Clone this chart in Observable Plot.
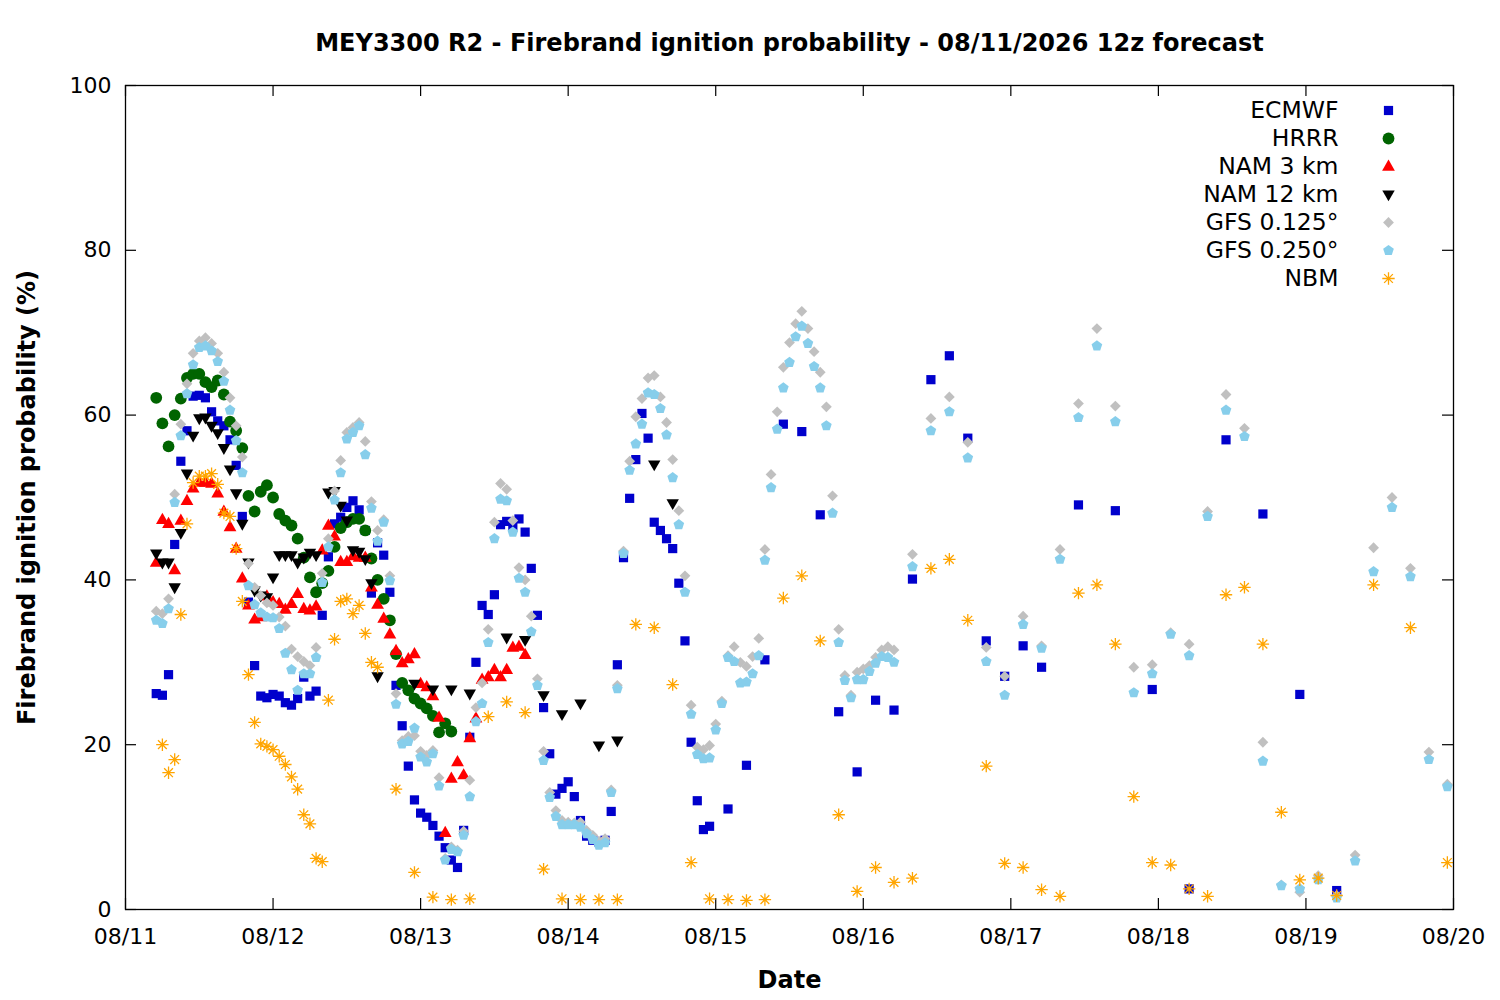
<!DOCTYPE html>
<html>
<head>
<meta charset="utf-8">
<script src="https://cdn.jsdelivr.net/npm/d3@7"></script>
<script src="https://cdn.jsdelivr.net/npm/@observablehq/plot@0.6"></script>
<style>
  body { margin: 0; background: #fff; }
</style>
</head>
<body>
<div id="chart"></div>
<script>
// ---------- DATA ----------
const titleText = "MEY3300 R2 - Firebrand ignition probability - 08/11/2026 12z forecast";
const xLabel = "Date";
const yLabel = "Firebrand ignition probability (%)";
const dayLabels = ["08/11","08/12","08/13","08/14","08/15","08/16","08/17","08/18","08/19","08/20"];
const dayHours = [0,24,48,72,96,120,144,168,192,216];
const yTicks = [0,20,40,60,80,100];

// hours after 08/11 00:00 at which each model has a value
const ecmwfHours = [...d3.range(5,96,1), ...d3.range(98,150,3), ...d3.range(155,198,6)];
const hrrrHours  = d3.range(5,54,1);
const nam3Hours  = d3.range(5,66,1);
const nam12Hours = [...d3.range(5,42,1), ...d3.range(44,90,3)];
const gfsHours   = [...d3.range(5,126,1), ...d3.range(128,216,3)];
const nbmHours   = [...d3.range(6,42,1), ...d3.range(44,198,3), 203, 209, 215];

const ecmwfValues = [
  26.2,26,28.5,44.3,54.4,58.1,62.3,62.4,62.1,60.4,
  59.3,58.7,57,53.9,47.7,37.3,29.6,25.9,25.7,26.1,
  25.9,25.1,24.8,25.6,28.2,25.9,26.5,35.7,42.8,46.8,
  47.6,48.8,49.6,48.5,46,38.4,44.5,43,38.5,27.2,
  22.3,17.4,13.3,11.7,11.2,10.2,8.9,7.5,6,5.1,
  9.6,20.9,30,36.9,35.8,38.2,46.7,47.1,46.4,47.4,
  45.8,41.4,35.7,24.5,18.9,14,14.7,15.5,13.7,10.8,
  8.9,8.4,8.2,8.4,11.9,29.7,42.7,49.9,54.6,60.2,
  57.2,47,46,45,43.8,39.6,32.6,20.3,13.2,9.7,
  10.1,
  12.2,17.5,30.3,58.9,58,47.9,24,16.7,25.4,24.2,40.1,64.3,67.2,57.2,32.6,28.3,32,29.4,
  49.1,48.4,26.7,2.5,57,48,26.1,2.3
];
const hrrrValues = [
  62.1,59,56.2,60,62,64.5,65,65,64,63.4,
  64.2,62.5,59.2,58.1,56,50.2,48.3,50.7,51.5,50,
  48,47.2,46.6,45,42.7,40.3,38.5,39.6,41.1,44,
  46.3,47,47.4,47.4,46,42.6,40,37.7,35.1,31,
  27.5,26.6,25.6,25,24.4,23.5,21.5,22.6,21.6
];
const nam3Values = [
  42.1,47.3,46.8,41.2,47.2,49.6,51.1,51.8,51.8,51.7,
  50.5,48.3,46.4,43.8,40.2,36.9,35.2,35.5,38,37.3,
  37.1,36.4,37.1,38.3,36.5,36.3,36.8,43.6,46.6,45.3,
  42.2,42.2,42.9,42.7,42.7,39.1,37,35.3,33.4,31.4,
  29.9,30.4,31,27.4,27,25.9,23.3,9.3,15.9,17.9,
  16.3,20.8,23.2,27.9,28.2,29.1,28.2,29.1,31.8,31.9,
  30.9
];
const nam12Values = [
  43.2,42.1,42.1,39.1,45.7,52.9,57.5,59.6,59.7,58.7,
  57.8,56,53.4,50.5,46.8,42.1,38.7,38.1,37.9,40.3,
  43,43,43,42.1,42.7,43.3,43,null,50.6,50.8,
  49,47.2,43.6,43.4,42.5,39.6,28.3,
  null,27.4,26.7,26.7,26.2,null,33,32.7,26,23.7,25,19.9,20.5,null,54,49.3
];
const gfs0125Values = [
  36.2,35.9,37.7,50.4,58.9,63.8,67.5,69,69.4,68.7,
  67.5,65.2,62.1,58.7,54.9,42,39.1,38.1,37.2,36.9,
  35.5,34.4,31.6,30.7,30.1,29.6,31.8,40.8,45,50.8,
  54.5,57.9,58.5,59.1,56.8,49.5,46,47.3,40.5,26.2,
  20.5,21,21.1,19.2,18.7,19.3,16,6.2,7.6,7.2,
  9.5,15.7,24.5,27.5,34,47,51.7,51,47.2,41.5,
  40,35.6,28,19.2,14.2,12,10.8,10.6,10.5,10.6,
  9.6,9,8.3,8.6,14.5,27.2,43.5,54.4,59.8,62,
  64.5,64.8,62.2,59.1,54.6,48.4,40.5,24.8,19.7,19.4,
  19.9,22.5,25.3,30.8,31.9,30,29.5,30.7,32.9,43.7,
  52.8,60.4,65.8,68.8,71.1,72.6,70.5,67.7,65.2,61,
  50.2,34,28.4,26,28.8,29.2,29.6,30.6,31.5,31.9,
  31.5,
  43.1,59.6,62.2,56.7,31.8,28.3,35.6,32,43.7,61.4,
  70.5,61.1,29.4,29.7,33.6,32.2,48.3,62.5,58.4,20.3,
  3,2.1,4.1,1.7,6.6,43.9,50,41.4,19.1,15.2
];
const gfs0250Values = [
  35.1,34.7,36.5,49.4,57.5,62.6,66.1,68.2,68.4,67.8,
  66.5,64.1,60.6,56.9,53,39.3,37,36,35.5,35.4,
  34.1,31.1,29.1,26.6,28.6,28.6,30.6,39.7,44,49.7,
  53,57.1,57.9,58.7,55.2,48.7,44.7,47,39.9,24.9,
  20.1,20.4,22,18.5,17.9,18.9,15,6,7.3,7,
  9,13.7,22.8,25,32.4,45,49.8,49.6,45.8,40.2,
  38.5,33.7,27.2,18.1,13.6,11.3,10.3,10.3,10.3,10,
  9.2,8.5,7.8,8.1,14.2,26.8,43.2,53.3,56.5,58.9,
  62.7,62.5,60.8,57.6,52.4,46.7,38.5,23.7,18.8,18.3,
  18.4,21.8,25,30.6,30.1,27.5,27.6,28.6,30.8,42.4,
  51.2,58.3,63.3,66.4,69.5,70.8,68.7,65.9,63.3,58.7,
  48.1,32.4,27.8,25.7,27.9,27.9,28.9,29.9,30.7,30.6,
  30,
  41.6,58.1,60.4,54.8,30.1,26,34.6,31.7,42.5,59.7,
  68.4,59.2,26.3,28.6,33.4,30.8,47.7,60.6,57.4,18,
  2.9,2.5,3.6,1.4,5.9,41,48.8,40.4,18.2,14.9
];
const nbmValues = [
  20,16.6,18.2,35.8,46.8,51.8,52.6,52.6,52.9,51.6,
  48.1,47.7,43.8,37.4,28.5,22.7,20.1,19.8,19.4,18.6,
  17.6,16.1,14.6,11.5,10.4,6.2,5.8,25.4,32.8,37.4,
  37.7,35.9,36.9,33.5,30,29.4,
  14.6,4.5,1.5,1.2,1.3,23.4,25.2,23.9,4.9,1.3,
  1.2,1.2,1.2,34.6,34.2,27.3,5.7,1.3,1.2,1.1,
  1.2,37.8,40.5,32.6,11.5,2.2,5.1,3.3,3.8,41.4,
  42.5,35.1,17.4,5.6,5.1,2.4,1.6,38.4,39.4,32.2,
  13.7,5.7,5.4,2.5,1.6,38.2,39.1,32.2,11.8,3.6,
  3.8,1.7,
  39.4,34.2,5.7
];

const seriesNames = ["ECMWF","HRRR","NAM 3 km","NAM 12 km","GFS 0.125°","GFS 0.250°","NBM"];

// ---------- SYMBOLS ----------
const rad = s => Math.sqrt(s / Math.PI);
const symSquare = {draw(c, s) { const h = rad(s); c.rect(-h, -h, 2*h, 2*h); }};
const symTriUp = {draw(c, s) { const h = rad(s); c.moveTo(0, -h*1.1); c.lineTo(h, h*0.65); c.lineTo(-h, h*0.65); c.closePath(); }};
const symTriDown = {draw(c, s) { const h = rad(s); c.moveTo(0, h*1.1); c.lineTo(h, -h*0.65); c.lineTo(-h, -h*0.65); c.closePath(); }};
const symDiamond = {draw(c, s) { const h = rad(s); c.moveTo(0, -h); c.lineTo(h, 0); c.lineTo(0, h); c.lineTo(-h, 0); c.closePath(); }};
const symPentagon = {draw(c, s) { const h = rad(s);
  for (let k = 0; k < 5; k++) { const a = -Math.PI/2 + k*2*Math.PI/5; const px = h*Math.cos(a), py = h*Math.sin(a); if (k === 0) c.moveTo(px, py); else c.lineTo(px, py); }
  c.closePath(); }};
const symAster = {draw(c, s) { const h = rad(s); const d = h*0.7071;
  c.moveTo(-h, 0); c.lineTo(h, 0); c.moveTo(0, -h); c.lineTo(0, h);
  c.moveTo(-d, -d); c.lineTo(d, d); c.moveTo(-d, d); c.lineTo(d, -d); }};

const styles = [
  {symbol: symSquare,   r: 4.6, fill: "#0000cc", stroke: "none"},
  {symbol: "circle",    r: 5.9, fill: "#006400", stroke: "none"},
  {symbol: symTriUp,    r: 6.4, fill: "#ff0000", stroke: "none"},
  {symbol: symTriDown,  r: 6.2, fill: "#000000", stroke: "none"},
  {symbol: symDiamond,  r: 5.4, fill: "#c0c0c0", stroke: "none"},
  {symbol: symPentagon, r: 5.6, fill: "#87ceeb", stroke: "none"},
  {symbol: symAster,    r: 6.2, fill: "none", stroke: "#ffa500", strokeWidth: 1.3}
];

const toRows = (hours, values) => hours.map((t, i) => ({t, v: values[i]})).filter(d => d.v != null);
const seriesRows = [
  toRows(ecmwfHours, ecmwfValues),
  toRows(hrrrHours, hrrrValues),
  toRows(nam3Hours, nam3Values),
  toRows(nam12Hours, nam12Values),
  toRows(gfsHours, gfs0125Values),
  toRows(gfsHours, gfs0250Values),
  toRows(nbmHours, nbmValues)
];

// ---------- LAYOUT ----------
const W = 1500, H = 1000, mL = 125, mR = 47, mT = 85, mB = 91;
const frameW = W - mL - mR, frameH = H - mT - mB, tickLen = 11;
const tickFont = 22, legendFont = 23.5, titleFont = 24;

const marks = [
  Plot.tickY(yTicks, {y: d => d, insetRight: frameW - tickLen, stroke: "black", strokeWidth: 1.2}),
  Plot.tickY(yTicks, {y: d => d, insetLeft: frameW - tickLen, stroke: "black", strokeWidth: 1.2}),
  Plot.tickX(dayHours, {x: d => d, insetTop: frameH - tickLen, stroke: "black", strokeWidth: 1.2}),
  Plot.tickX(dayHours, {x: d => d, insetBottom: frameH - tickLen, stroke: "black", strokeWidth: 1.2}),
  Plot.axisY({ticks: yTicks, tickSize: 0, tickPadding: 14, fontSize: tickFont, label: null}),
  Plot.axisX({ticks: dayHours, tickFormat: d => dayLabels[Math.round(d / 24)], tickSize: 0, tickPadding: 19, fontSize: tickFont, label: null})
];

seriesRows.forEach((rows, i) => {
  marks.push(Plot.dot(rows, {x: "t", y: "v", ...styles[i]}));
});

marks.push(Plot.frame({stroke: "black", strokeWidth: 1.3}));

// legend
seriesNames.forEach((name, i) => {
  const dy = 25 + 28 * i;
  marks.push(Plot.text([name], {text: d => d, frameAnchor: "top-right", dx: -115, dy, textAnchor: "end", lineAnchor: "middle", fontSize: legendFont}));
  marks.push(Plot.dot([name], {frameAnchor: "top-right", dx: -65, dy, ...styles[i]}));
});

// titles
marks.push(Plot.text([titleText], {text: d => d, frameAnchor: "top", dy: -42, lineAnchor: "middle", textAnchor: "middle", fontSize: titleFont, fontWeight: "bold"}));
marks.push(Plot.text([xLabel], {text: d => d, frameAnchor: "bottom", dy: 71, lineAnchor: "middle", textAnchor: "middle", fontSize: titleFont, fontWeight: "bold"}));
marks.push(Plot.text([yLabel], {text: d => d, frameAnchor: "left", dx: -98, rotate: -90, lineAnchor: "middle", textAnchor: "middle", fontSize: titleFont, fontWeight: "bold"}));

const chart = Plot.plot({
  width: W, height: H,
  marginLeft: mL, marginRight: mR, marginTop: mT, marginBottom: mB,
  x: {domain: [0, 216]},
  y: {domain: [0, 100]},
  style: {fontFamily: "'DejaVu Sans', sans-serif", background: "white", color: "black", overflow: "visible"},
  marks
});
document.getElementById("chart").appendChild(chart);
</script>
</body>
</html>
